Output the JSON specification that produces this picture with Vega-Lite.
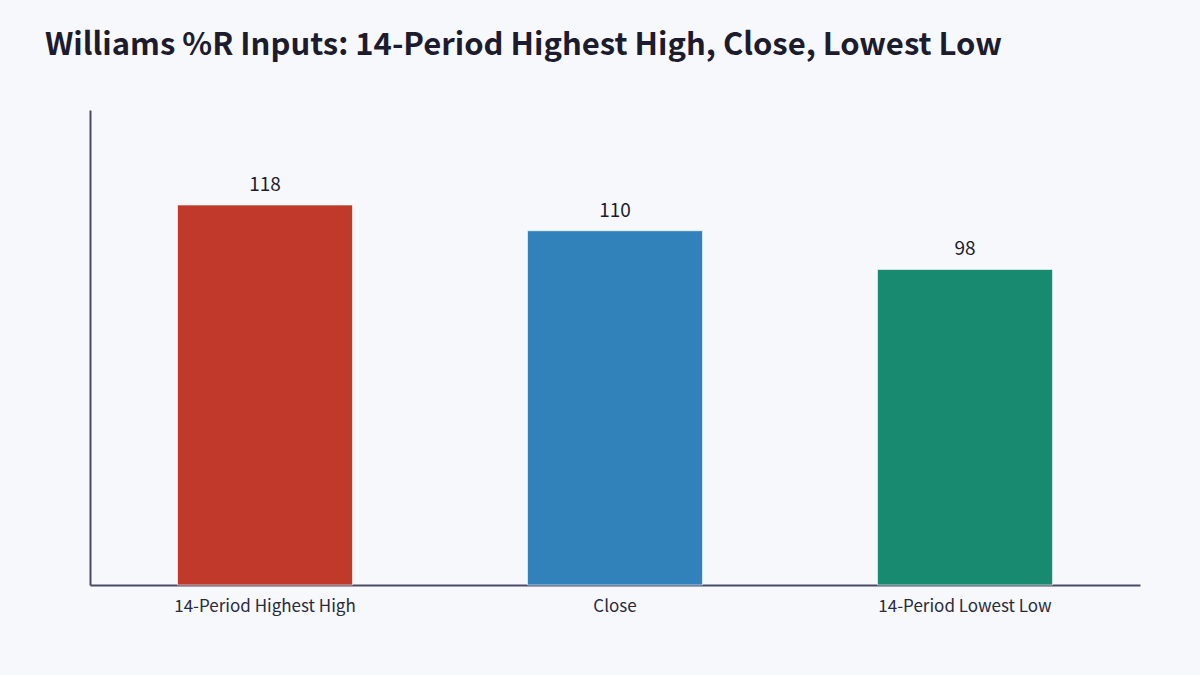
{
  "$schema": "https://vega.github.io/schema/vega-lite/v6.json",
  "width": 1050,
  "height": 475,
  "autosize": {"type": "none"},
  "padding": {"left": 90, "top": 110, "right": 60, "bottom": 90},
  "background": "#f7f8fc",
  "title": {
    "text": "Williams %R Inputs: 14-Period Highest High, Close, Lowest Low",
    "anchor": "start",
    "frame": "group",
    "dx": -45,
    "offset": 48,
    "font": "Noto Sans CJK KR",
    "fontSize": 31,
    "fontWeight": "bold",
    "color": "#1c1c2e"
  },
  "data": {
    "values": [
      {"input": "14-Period Highest High", "value": 118},
      {"input": "Close", "value": 110},
      {"input": "14-Period Lowest Low", "value": 98}
    ]
  },
  "encoding": {
    "x": {
      "field": "input",
      "type": "nominal",
      "sort": null,
      "scale": {"paddingInner": 0.5, "paddingOuter": 0.25},
      "axis": {
        "title": null,
        "labelAngle": 0,
        "ticks": false,
        "labelPadding": 13,
        "labelLimit": 400,
        "labelFont": "Noto Sans CJK KR",
        "labelFontSize": 17,
        "labelColor": "#2a2a3c",
        "domainColor": "#4a4a66",
        "domainWidth": 2
      }
    },
    "y": {
      "field": "value",
      "type": "quantitative",
      "scale": {"domain": [0, 147.5], "nice": false},
      "axis": {
        "title": null,
        "labels": false,
        "ticks": false,
        "grid": false,
        "domainColor": "#4a4a66",
        "domainWidth": 2
      }
    }
  },
  "layer": [
    {
      "mark": {"type": "bar", "stroke": "#ffffff", "strokeOpacity": 0.6, "strokeWidth": 1},
      "encoding": {
        "color": {
          "field": "input",
          "type": "nominal",
          "sort": null,
          "scale": {
            "domain": ["14-Period Highest High", "Close", "14-Period Lowest Low"],
            "range": ["#c0392b", "#3182bb", "#178a70"]
          },
          "legend": null
        }
      }
    },
    {
      "mark": {
        "type": "text",
        "baseline": "bottom",
        "dy": -10,
        "font": "Noto Sans CJK KR",
        "fontSize": 19,
        "color": "#1c1c2e"
      },
      "encoding": {
        "text": {"field": "value", "type": "quantitative"}
      }
    }
  ],
  "config": {
    "view": {"stroke": null}
  }
}
